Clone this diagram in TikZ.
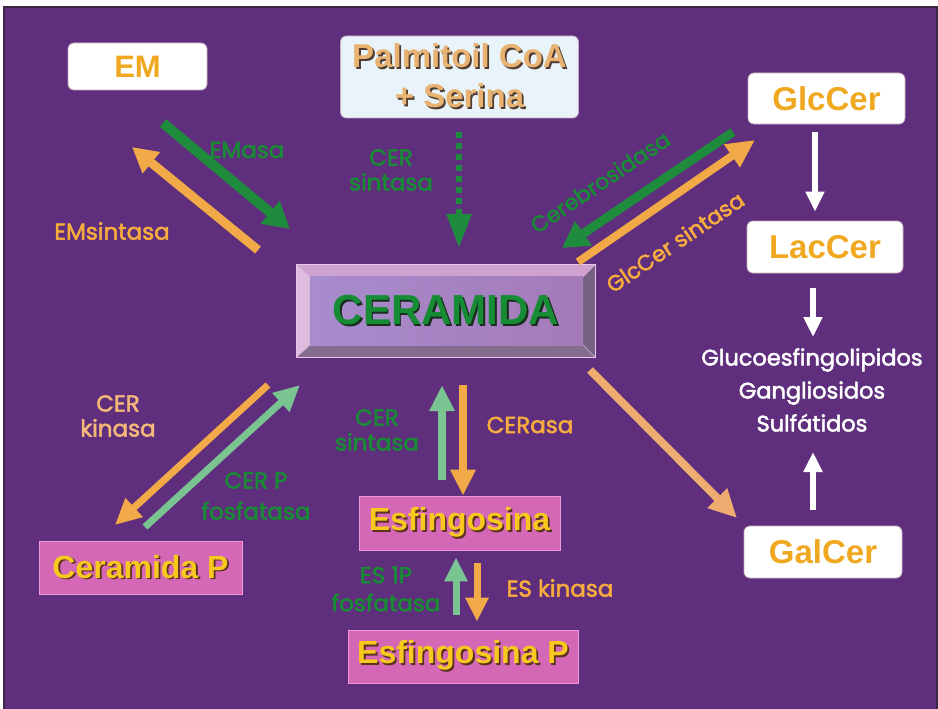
\documentclass[tikz,border=0pt]{standalone}
\usepackage{fontspec}
\usetikzlibrary{arrows.meta,calc}
\newfontfamily\boxfont{Liberation Sans}
\newfontfamily\labfont{Poppins}[FakeBold=2.2]
\definecolor{bgpurple}{RGB}{95,46,125}
\definecolor{frameline}{RGB}{60,40,70}
\definecolor{boxorange}{RGB}{240,168,32}
\definecolor{boxedge}{RGB}{200,170,190}
\definecolor{pinkfill}{RGB}{212,104,182}
\definecolor{pinkedge}{RGB}{240,150,220}
\definecolor{yelltext}{RGB}{248,200,30}
\definecolor{yellshadow}{RGB}{90,50,30}
\definecolor{palmfill}{RGB}{232,244,250}
\definecolor{palmtext}{RGB}{232,178,112}
\definecolor{palmshadow}{RGB}{80,60,50}
\definecolor{cergreen}{RGB}{22,140,52}
\definecolor{cershadow}{RGB}{25,45,30}
\definecolor{bevtop}{RGB}{205,162,208}
\definecolor{bevleft}{RGB}{222,188,222}
\definecolor{bevright}{RGB}{118,98,128}
\definecolor{bevbottom}{RGB}{132,108,142}
\definecolor{faceL}{RGB}{168,140,205}
\definecolor{faceR}{RGB}{165,122,185}
\definecolor{bevedge}{RGB}{236,196,236}
\definecolor{dgreen}{RGB}{30,140,60}
\definecolor{lgreenarrow}{RGB}{122,196,146}
\definecolor{oarrowc}{RGB}{242,170,72}
\definecolor{oarrowlight}{RGB}{238,172,112}
\definecolor{lgreen}{RGB}{24,140,52}
\definecolor{lorange}{RGB}{246,172,62}
\definecolor{lpeach}{RGB}{246,184,120}
\newcommand\shd[3]{\leavevmode\rlap{\kern1.8pt\raisebox{-1.8pt}{\color{#2}#3}}{\color{#1}#3}}
\tikzset{
  whitebox/.style={rectangle, rounded corners=6pt, fill=white, draw=boxedge, line width=0.8pt, inner sep=0pt},
  pinkbox/.style={rectangle, fill=pinkfill, draw=pinkedge, line width=0.8pt, inner sep=0pt},
  boxtext/.style={font=\boxfont\bfseries\fontsize{33}{38}\selectfont, text=boxorange},
  lab/.style={font=\labfont\fontsize{23}{25}\selectfont, align=center, inner sep=0pt},
  dgarrow/.style={draw=dgreen, line width=10pt, -{Triangle[width=28pt,length=26pt]}},
  oarrow/.style={draw=oarrowc, line width=9pt, -{Triangle[width=26pt,length=25pt]}},
  lgarrow/.style={draw=lgreenarrow, line width=8pt, -{Triangle[width=24pt,length=26pt]}},
  warrow/.style={draw=white, line width=6pt, -{Triangle[width=18pt,length=20pt]}},
}
\begin{document}
\begin{tikzpicture}[x=1pt,y=-1pt]
\useasboundingbox (0,0) rectangle (938,709);
\fill[white] (0,0) rectangle (938,709);
\fill[bgpurple] (4,7) rectangle (937,709);
\draw[frameline, line width=1.2pt] (4,709) -- (4,7) -- (937,7) -- (937,709);

% boxes
\node[whitebox, minimum width=139pt, minimum height=47pt, boxtext, font=\boxfont\bfseries\fontsize{31}{36}\selectfont] (em) at (137.5,66.5) {EM};
\node[whitebox, fill=palmfill, minimum width=238pt, minimum height=82pt, align=center,
      font=\boxfont\bfseries\fontsize{33}{40}\selectfont] (palm) at (459.5,77)
      {\shd{palmtext}{palmshadow}{Palmitoil CoA}\\\shd{palmtext}{palmshadow}{+ Serina}};
\node[whitebox, minimum width=157pt, minimum height=51pt, boxtext] (glc) at (826.5,98.5) {GlcCer};
\node[whitebox, minimum width=156pt, minimum height=52pt, boxtext] (lac) at (825,247) {LacCer};
\node[whitebox, minimum width=158pt, minimum height=52pt, boxtext] (gal) at (823,552) {GalCer};

\node[pinkbox, minimum width=203pt, minimum height=53pt, font=\boxfont\bfseries\fontsize{32}{38}\selectfont] (cerp) at (140.5,567.5) {\shd{yelltext}{yellshadow}{Ceramida P}};
\node[pinkbox, minimum width=201pt, minimum height=54pt, font=\boxfont\bfseries\fontsize{32}{38}\selectfont] (esf) at (459.5,523) {\shd{yelltext}{yellshadow}{Esfingosina}};
\node[pinkbox, minimum width=230pt, minimum height=53pt, font=\boxfont\bfseries\fontsize{32}{38}\selectfont] (esfp) at (463,656.5) {\shd{yelltext}{yellshadow}{Esfingosina P}};

% CERAMIDA bevelled box
\node[rectangle, minimum width=298pt, minimum height=92pt, inner sep=0pt] (cer) at (446,311) {};
\coordinate (iTL) at ($(cer.north west)+(13,12)$);
\coordinate (iTR) at ($(cer.north east)+(-12,12)$);
\coordinate (iBR) at ($(cer.south east)+(-12,-12)$);
\coordinate (iBL) at ($(cer.south west)+(13,-12)$);
\fill[bevtop] (cer.north west) -- (cer.north east) -- (iTR) -- (iTL) -- cycle;
\fill[bevleft] (cer.north west) -- (iTL) -- (iBL) -- (cer.south west) -- cycle;
\fill[bevright] (cer.north east) -- (cer.south east) -- (iBR) -- (iTR) -- cycle;
\fill[bevbottom] (cer.south west) -- (iBL) -- (iBR) -- (cer.south east) -- cycle;
\shade[left color=faceL, right color=faceR] (iTL) rectangle (iBR);
\draw[bevedge, line width=0.8pt] (cer.north west) rectangle (cer.south east);
\draw[bevedge!80!gray, line width=0.5pt] (cer.north west) -- (iTL) (cer.north east) -- (iTR) (cer.south east) -- (iBR) (cer.south west) -- (iBL);
\node[font=\boxfont\bfseries\fontsize{42}{48}\selectfont] (certext) at (cer) {\shd{cergreen}{cershadow}{CERAMIDA}};

% text block
\node[lab, text=white, font=\labfont\fontsize{22.5}{33}\selectfont] (gly) at (812,390) {Glucoesfingolipidos\\Gangliosidos\\Sulfátidos};

% arrow coordinates
\coordinate (emasaS) at (163,123);  \coordinate (emasaE) at (290,229);
\coordinate (emsinS) at (258,250);  \coordinate (emsinE) at (132,147);
\coordinate (cebS) at (733,132);    \coordinate (cebE) at (562,248);
\coordinate (glcsS) at (578,262);   \coordinate (glcsE) at (755,140);
\coordinate (galS) at (590,370);    \coordinate (galE) at (737,518);
\coordinate (kinS) at (268,385);    \coordinate (kinE) at (115,525);
\coordinate (fosS) at (145,527);    \coordinate (fosE) at (300,385);
\coordinate (lacA) at (813,288);    \coordinate (glyT) at (813,337);
\coordinate (galA) at (813,510);    \coordinate (glyB) at (813,452);

\draw[dgarrow] (emasaS) -- (emasaE);
\draw[oarrow] (emsinS) -- (emsinE);
\draw[dgarrow, line width=9pt] (cebS) -- (cebE);
\draw[oarrow, line width=8pt, -{Triangle[width=26pt,length=28pt]}] (glcsS) -- (glcsE);
\draw[oarrow, draw=oarrowlight, line width=8pt, -{Triangle[width=26pt,length=28pt]}] (galS) -- (galE);
\draw[oarrow, line width=7pt, -{Triangle[width=24pt,length=26pt]}] (kinS) -- (kinE);
\draw[lgarrow, line width=7pt] (fosS) -- (fosE);

% dashed CER sintasa arrow
\draw[draw=dgreen, line width=6pt, dash pattern=on 6pt off 5pt, shorten <=14pt, shorten >=17pt,
      -{Triangle[width=24pt,length=34pt]}] (palm.south -| 459,0) -- (cer.north -| 459,0);

% white arrows
\draw[warrow, shorten <=8pt, shorten >=9pt] ([xshift=-11.5pt]glc.south) -- ([xshift=-10pt]lac.north);
\draw[warrow] (lacA) -- (glyT);
\draw[warrow] (galA) -- (glyB);

% vertical pairs
\draw[lgarrow, shorten <=16pt, shorten >=28pt] (442,0 |- esf.north) -- (442,0 |- cer.south);
\draw[oarrow, line width=8pt, -{Triangle[width=24pt,length=26pt]}, shorten <=28pt] (463,0 |- cer.south) -- (463,0 |- esf.north);
\draw[lgarrow, line width=7pt, -{Triangle[width=22pt,length=24pt]}, shorten <=15pt, shorten >=7pt] (456,0 |- esfp.north) -- (456,0 |- esf.south);
\draw[oarrow, line width=7pt, -{Triangle[width=22pt,length=24pt]}, shorten <=13pt, shorten >=8pt] (477,0 |- esf.south) -- (477,0 |- esfp.north);

% labels
\node[lab, text=lgreen] (lemasa) at (247,150) {EMasa};
\node[lab, text=lorange] (lemsin) at (112,231) {EMsintasa};
\node[lab, text=lgreen] (lcers1) at (391,170) {CER\\sintasa};
\node[lab, text=lgreen, rotate=34, font=\labfont\fontsize{22}{25}\selectfont] (lceb) at (600,182) {Cerebrosidasa};
\node[lab, text=lorange, rotate=34, font=\labfont\fontsize{22}{25}\selectfont] (lglcs) at (675,242) {GlcCer sintasa};
\node[lab, text=lpeach] (lkin) at (118,416) {CER\\kinasa};
\node[lab, text=lgreen, font=\labfont\fontsize{23}{31}\selectfont] (lfos) at (256,496) {CER P\\fosfatasa};
\node[lab, text=lgreen] (lcers2) at (377,430) {CER\\sintasa};
\node[lab, text=lorange] (lcerasa) at (530,425) {CERasa};
\node[lab, text=lgreen, font=\labfont\fontsize{23}{28}\selectfont] (les1p) at (386,589) {ES 1P\\fosfatasa};
\node[lab, text=lorange] (leskin) at (560,588) {ES kinasa};
\end{tikzpicture}
\end{document}
